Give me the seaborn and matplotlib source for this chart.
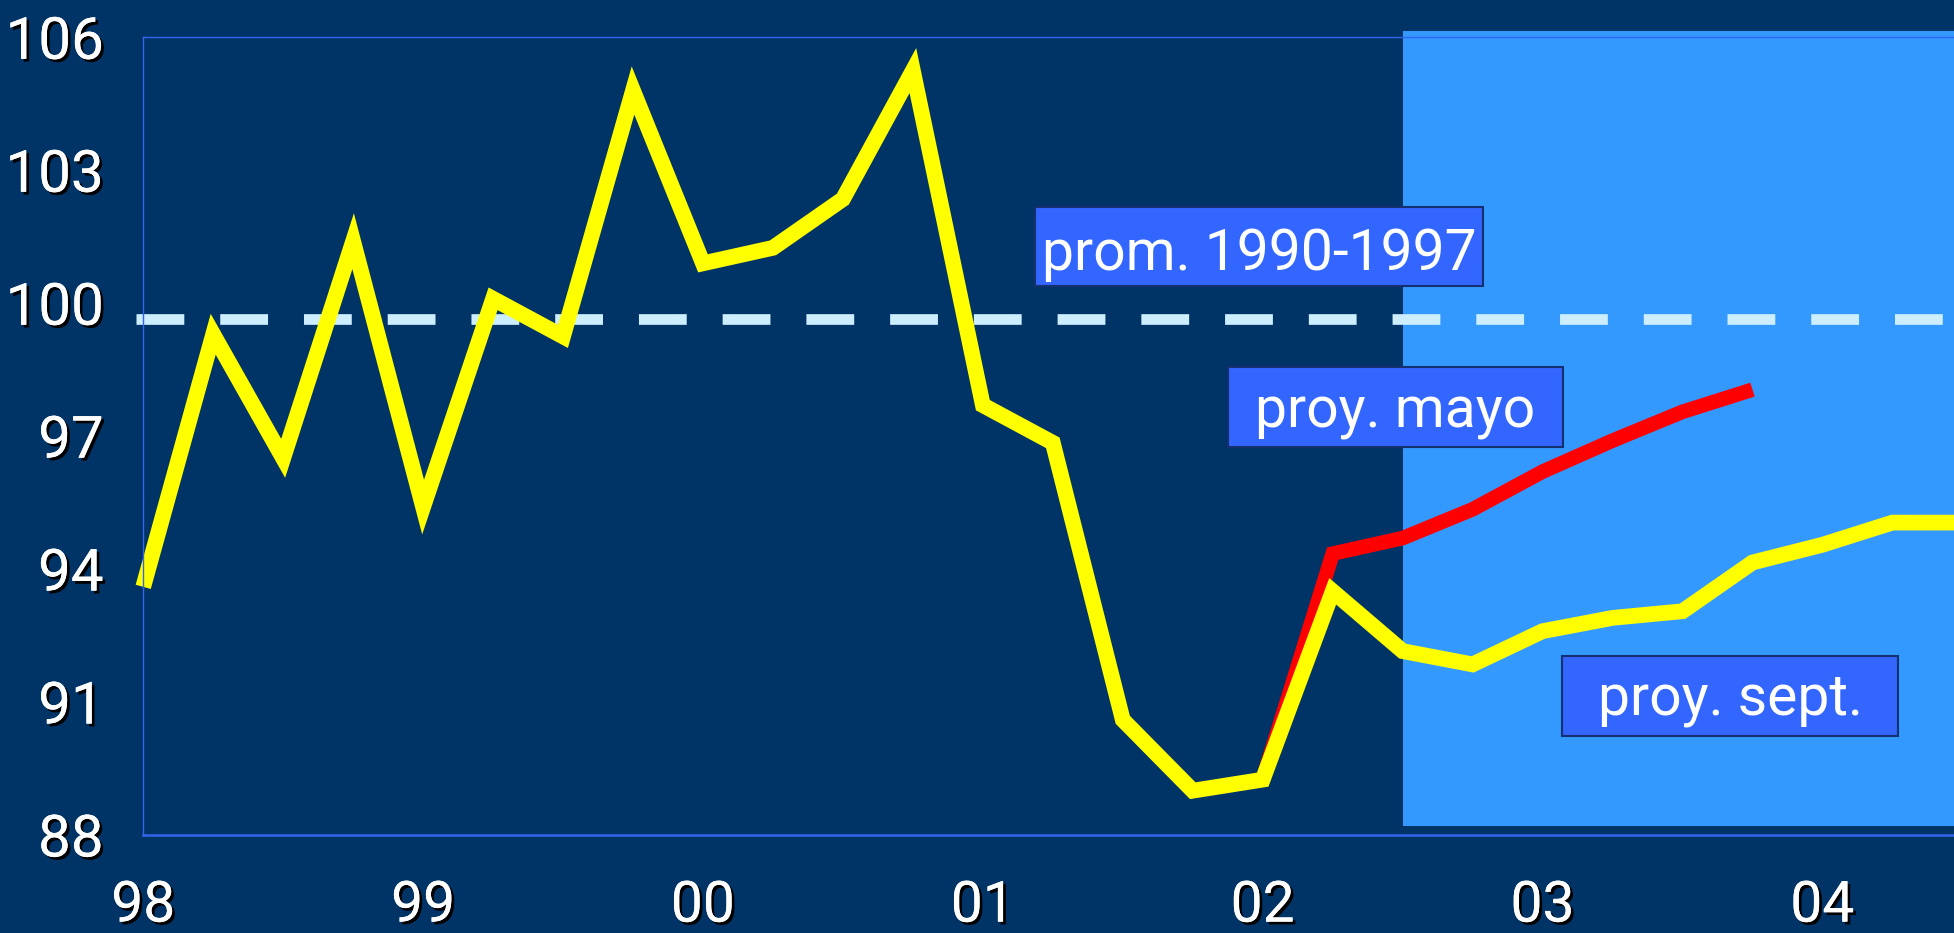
import numpy as np
import pandas as pd
import matplotlib
matplotlib.use("Agg")
import matplotlib.pyplot as plt
import matplotlib.patheffects as pe
from matplotlib.patches import Rectangle
import seaborn as sns

# ---------------- data ----------------
quarters_sept = [0.0, 0.25, 0.5, 0.75, 1.0, 1.25, 1.5, 1.75, 2.0, 2.25, 2.5, 2.75,
                 3.0, 3.25, 3.5, 3.75, 4.0, 4.25, 4.5, 4.75, 5.0, 5.25, 5.5, 5.75,
                 6.0, 6.25, 6.5]
values_sept = [93.6, 99.3, 96.5, 101.4, 95.4, 100.1, 99.25, 104.8, 100.9, 101.25,
               102.35, 105.25, 97.7, 96.85, 90.6, 89.0, 89.25, 93.5, 92.15, 91.85,
               92.6, 92.9, 93.05, 94.15, 94.55, 95.05, 95.05]
quarters_mayo = [4.0, 4.25, 4.5, 4.75, 5.0, 5.25, 5.5, 5.75]
values_mayo = [89.25, 94.35, 94.7, 95.35, 96.2, 96.9, 97.55, 98.05]
prom_1990_1997 = 99.65
forecast_start = 4.5
year_ticks = [0, 1, 2, 3, 4, 5, 6]
year_labels = ["98", "99", "00", "01", "02", "03", "04"]
y_ticks = [88, 91, 94, 97, 100, 103, 106]
label_prom = "prom. 1990-1997"
label_mayo = "proy. mayo"
label_sept = "proy. sept."

# ---------------- style ----------------
NAVY = "#003366"
LIGHT = "#3399ff"
BOXC = "#3366ff"
BOXE = "#14306e"
AXC = "#3366ee"

sns.set_style("white", {"axes.facecolor": NAVY, "figure.facecolor": NAVY})
plt.rcParams["font.family"] = ["Roboto", "DejaVu Sans"]

fig = plt.figure(figsize=(19.54, 9.33), dpi=100, facecolor=NAVY)
ax = fig.add_axes([0.0733, 0.105, 0.931, 0.855])
ax.set_facecolor(NAVY)

ax.set_xlim(0, 6.5)
ax.set_ylim(88, 106)

# forecast shaded area
ax.add_patch(Rectangle((forecast_start, 88.2), 6.5 - forecast_start + 0.2, 106.15 - 88.2,
                       facecolor=LIGHT, edgecolor="none", zorder=0.5, clip_on=False))

# average dashed line
ax.axhline(prom_1990_1997, xmin=-0.004, xmax=1.0, color="#cceeff", linewidth=7.7,
           dashes=(4.47, 3.36), dash_capstyle="butt", clip_on=False, zorder=2)

df_m = pd.DataFrame({"x": quarters_mayo, "y": values_mayo})
df_s = pd.DataFrame({"x": quarters_sept, "y": values_sept})
sns.lineplot(data=df_m, x="x", y="y", ax=ax, color="#ff0000", linewidth=10.5,
             zorder=3, solid_joinstyle="miter", solid_capstyle="butt")
sns.lineplot(data=df_s, x="x", y="y", ax=ax, color="#ffff00", linewidth=11.3,
             zorder=4, solid_joinstyle="miter", solid_capstyle="butt")
for ln in ax.lines:
    if ln.get_color() in ("#ff0000", "#ffff00"):
        ln.set_clip_on(False)

# label boxes: (x0, x1, y0, y1, text baseline, text)
boxes = [
    (3.187, 4.787, 100.39, 102.17, 100.75, label_prom),
    (3.875, 5.073, 96.76, 98.56, 97.19, label_mayo),
    (5.070, 6.271, 90.24, 92.05, 90.71, label_sept),
]
for x0, x1, y0, y1, yb, txt in boxes:
    ax.add_patch(Rectangle((x0, y0), x1 - x0, y1 - y0, facecolor=BOXC, edgecolor=BOXE,
                           linewidth=1.5, zorder=6, clip_on=False))
    ax.text((x0 + x1) / 2, yb, txt, color="white", fontsize=41, ha="center",
            va="baseline", family=["Roboto", "DejaVu Sans"], zorder=7)

# axes styling
ax.set_xticks(year_ticks)
ax.set_xticklabels(year_labels)
ax.set_yticks(y_ticks)
ax.set_yticklabels([str(v) for v in y_ticks])
ax.set_xlabel("")
ax.set_ylabel("")
for s in ["left", "bottom", "top"]:
    ax.spines[s].set_visible(True)
    ax.spines[s].set_color(AXC)
    ax.spines[s].set_zorder(5)
ax.spines["left"].set_linewidth(1.0)
ax.spines["top"].set_linewidth(1.0)
ax.spines["bottom"].set_linewidth(1.8)
ax.spines["right"].set_visible(False)

ax.tick_params(axis="both", direction="out", color=AXC, width=1.2, length=9.4,
               labelcolor="white")
ax.tick_params(axis="y", pad=19)
ax.tick_params(axis="x", pad=22)
shadow = [pe.withSimplePatchShadow(offset=(2, -2), shadow_rgbFace="black", alpha=1.0),
          pe.Normal()]
for lab in ax.get_yticklabels():
    lab.set_family(["Roboto", "DejaVu Sans"])
    lab.set_fontsize(42)
    lab.set_path_effects(shadow)
for lab in ax.get_xticklabels():
    lab.set_family(["Roboto", "DejaVu Sans"])
    lab.set_fontsize(41)
    lab.set_path_effects(shadow)

fig.savefig("out.png", dpi=100, facecolor=NAVY)
